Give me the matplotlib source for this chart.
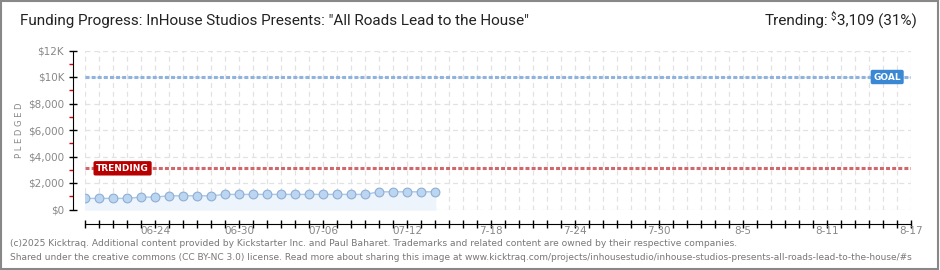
import numpy as np
import pandas as pd
import matplotlib
matplotlib.use("Agg")
import matplotlib.pyplot as plt
from matplotlib.patches import Rectangle

# data
start_day = "2025-06-19"
end_day = "2025-08-17"
pledged = [840, 840, 840, 840, 935, 935, 1035, 1035, 1035, 1035,
           1140, 1140, 1140, 1140, 1140, 1140, 1140, 1140, 1140, 1140, 1140,
           1335, 1335, 1335, 1335, 1335]
goal = 10000
trending = 3109
tick_dates = ["2025-06-24", "2025-06-30", "2025-07-06", "2025-07-12", "2025-07-18",
              "2025-07-24", "2025-07-30", "2025-08-05", "2025-08-11", "2025-08-17"]
tick_labels = ["06-24", "06-30", "07-06", "07-12", "7-18", "7-24", "7-30", "8-5", "8-11", "8-17"]
y_ticks = [0, 2000, 4000, 6000, 8000, 10000, 12000]
y_labels = ["$0", "$2,000", "$4,000", "$6,000", "$8,000", "$10K", "$12K"]

title = 'Funding Progress: InHouse Studios Presents: "All Roads Lead to the House"'
footer1 = ("(c)2025 Kicktraq. Additional content provided by Kickstarter Inc. and Paul Baharet. "
           "Trademarks and related content are owned by their respective companies.")
footer2 = ("Shared under the creative commons (CC BY-NC 3.0) license. Read more about sharing this image at "
           "www.kicktraq.com/projects/inhousestudio/inhouse-studios-presents-all-roads-lead-to-the-house/#s")

days = pd.date_range(start_day, periods=len(pledged), freq="D")
all_days = pd.date_range(start_day, end_day, freq="D")

plt.rcParams['font.family'] = ['DejaVu Sans']

fig = plt.figure(figsize=(9.4, 2.7), dpi=100)
W, H = 940, 270
ax = fig.add_axes([85 / W, 1 - 209.5 / H, (911 - 85) / W, (209.5 - 50.5) / H])

# grid
ax.set_ylim(0, 12000)
ax.set_xlim(all_days[0], all_days[-1])
for d in all_days:
    ax.axvline(d, color='#e2e2e2', lw=0.9, ls=(0, (4, 3)), zorder=0)
for v in y_ticks:
    ax.axhline(v, color='#e2e2e2', lw=0.9, ls=(0, (4, 3)), zorder=0)

# goal and trending lines
ax.axhline(goal, color='#8fb3de', lw=2.2, ls=(0, (1.3, 0.7)), zorder=2)
ax.axhline(trending, color='#d0676b', lw=2.2, ls=(0, (1.3, 0.7)), zorder=2)

# pledged series
ax.fill_between(days, 0, pledged, color='#edf4fc', zorder=1)
ax.plot(days, pledged, color='#a9c8ea', lw=1, marker='o', ms=6.3,
        mfc='#bcd6f2', mec='#8eaed3', mew=0.8, zorder=3)

# labels on lines
ax.text(all_days[0] + pd.Timedelta(hours=24 * 57.3), goal, "GOAL", color='white', fontsize=6.5,
        fontweight='bold', va='center', ha='center', zorder=5,
        bbox=dict(boxstyle='round,pad=0.3,rounding_size=0.2', fc='#3a87d4', ec='none'))
ax.text(all_days[0] + pd.Timedelta(hours=24 * 0.8), trending, "TRENDING", color='white', fontsize=6.5,
        fontweight='bold', va='center', ha='left', zorder=5,
        bbox=dict(boxstyle='round,pad=0.3,rounding_size=0.2', fc='#b80000', ec='none'))

# axes styling
for s in ['top', 'right']:
    ax.spines[s].set_visible(False)
ax.spines['left'].set_position(('outward', 9))
ax.spines['bottom'].set_position(('outward', 10.5))
ax.spines['left'].set_color('black')
ax.spines['bottom'].set_color('black')

ax.set_yticks(y_ticks)
ax.set_yticklabels(y_labels, color='#888888', fontsize=7.5)
ax.set_yticks([1000, 3000, 5000, 7000, 9000, 11000], minor=True)
ax.tick_params(axis='y', which='major', direction='inout', length=6, width=1, pad=3)
ax.tick_params(axis='y', which='minor', direction='out', length=3, width=1, color='#e00000')

ax.set_xticks(all_days)
ax.set_xticklabels([""] * len(all_days))
ax.tick_params(axis='x', which='major', direction='inout', length=6, width=1)
for d, lab in zip(tick_dates, tick_labels):
    ax.text(pd.Timestamp(d), -0.105, lab, transform=ax.get_xaxis_transform(),
            ha='center', va='top', fontsize=7.5, color='#888888')

fig.text(20 / W, 1 - 130 / H, "P L E D G E D", rotation=90, ha='center', va='center',
         fontsize=6, color='#888888')

# title and trending figure
fig.text(20 / W, 1 - 21 / H, title, fontsize=11, family='Roboto', color='#222222',
         va='center', ha='left')
rend = fig.canvas.get_renderer()
t_val = fig.text(917 / W, 1 - 21 / H, "3,109 (31%)", fontsize=11, family='Roboto',
                 color='#222222', va='center', ha='right')
x0 = t_val.get_window_extent(rend).x0
t_dol = fig.text((x0 - 1) / W, 1 - 17 / H, "$", fontsize=7, family='Roboto',
                 color='#222222', va='center', ha='right')
x1 = t_dol.get_window_extent(rend).x0
fig.text((x1 - 3) / W, 1 - 21 / H, "Trending:", fontsize=11, family='Roboto',
         color='#222222', va='center', ha='right')

fig.text(10 / W, 1 - 243 / H, footer1, fontsize=6.6, color='#777777', va='center')
fig.text(10 / W, 1 - 257 / H, footer2, fontsize=6.45, color='#777777', va='center')

fig.patches.append(Rectangle((0.001, 0.002), 0.997, 0.996, transform=fig.transFigure,
                             fill=False, ec='#888888', lw=1.5))

fig.savefig("out.png", dpi=100)
